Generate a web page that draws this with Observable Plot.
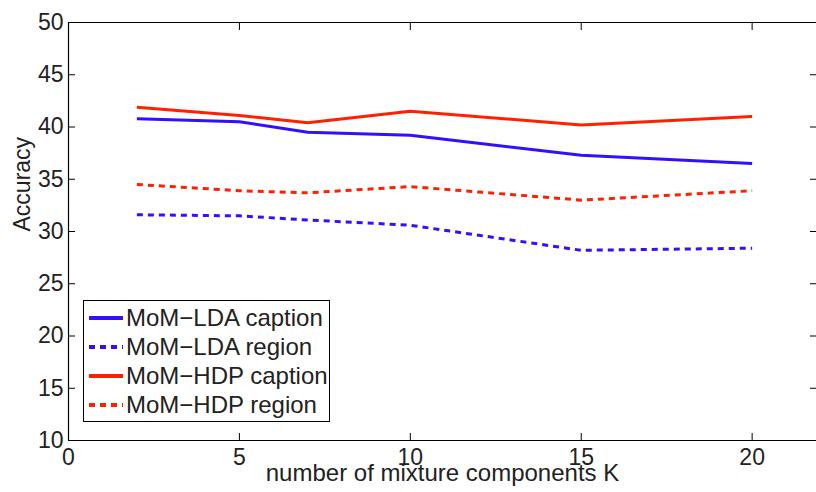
<!DOCTYPE html>
<html><head><meta charset="utf-8">
<script src="https://cdn.jsdelivr.net/npm/d3@7"></script>
<script src="https://cdn.jsdelivr.net/npm/@observablehq/plot@0.6"></script>
<style>
body{margin:0;background:#fff;}
#wrap{position:relative;width:816px;height:492px;overflow:hidden;font-family:"Liberation Sans",Arial,sans-serif;}
#legend{position:absolute;left:83px;top:300px;width:245px;height:120px;border:1px solid #000;background:#fff;box-sizing:content-box;}
#legend .row{position:absolute;left:0;height:29px;display:flex;align-items:center;font-size:24px;color:#222;white-space:nowrap;}
#legend svg{margin-left:5px;margin-right:3px;}
</style></head>
<body><div id="wrap"></div>
<script>
const K = [2, 5, 7, 10, 15, 20];
const ldaCaption = [40.8, 40.5, 39.5, 39.2, 37.3, 36.5];
const ldaRegion  = [31.6, 31.5, 31.1, 30.6, 28.2, 28.4];
const hdpCaption = [41.9, 41.1, 40.4, 41.5, 40.2, 41.0];
const hdpRegion  = [34.5, 33.9, 33.7, 34.3, 33.0, 33.9];
const xTicks = [0, 5, 10, 15, 20];
const yTicks = [10, 15, 20, 25, 30, 35, 40, 45, 50];
const seriesNames = ["MoM\u2212LDA caption", "MoM\u2212LDA region", "MoM\u2212HDP caption", "MoM\u2212HDP region"];
const seriesValues = [ldaCaption, ldaRegion, hdpCaption, hdpRegion];
const seriesColors = ["#3010ff", "#3010ff", "#ff2000", "#ff2000"];
const seriesDash = [null, "6,5", null, "6,5"];

const rows = [];
seriesNames.forEach((name, i) => K.forEach((k, j) => rows.push({series: name, k, acc: seriesValues[i][j]})));

const marks = [];
seriesNames.forEach((name, i) => {
  marks.push(Plot.line(rows.filter(r => r.series === name), {
    x: "k", y: "acc", stroke: seriesColors[i], strokeWidth: 3,
    strokeDasharray: seriesDash[i], strokeLinecap: "butt", strokeLinejoin: "round"
  }));
});

const chart = Plot.plot({
  width: 816, height: 492,
  marginLeft: 68, marginRight: 0, marginTop: 22, marginBottom: 52,
  style: {fontFamily: "'Liberation Sans', Arial, sans-serif", fontSize: "23px", color: "#222", background: "#fff"},
  x: {domain: [0, 22], range: [68, 820]},
  y: {domain: [10, 50]},
  marks: [
    ...marks,
    Plot.ruleY([10, 50], {stroke: "#000", strokeWidth: 1.2}),
    Plot.ruleX([0, 22], {stroke: "#000", strokeWidth: 1.2}),
    Plot.axisX(xTicks, {anchor: "bottom", tickSize: -7, tickPadding: 15, fontSize: 23, label: null, stroke: "#000"}),
    Plot.axisX(xTicks, {anchor: "top", tickSize: -7, text: null, label: null, stroke: "#000"}),
    Plot.axisY(yTicks, {anchor: "left", tickSize: -7, tickPadding: 12, fontSize: 23, label: null, stroke: "#000"}),
    Plot.axisY(yTicks, {anchor: "right", tickSize: -7, text: null, label: null, stroke: "#000"}),
    Plot.text(["number of mixture components K"], {frameAnchor: "bottom", dy: 40, fontSize: 24, fill: "#222"}),
    Plot.text(["Accuracy"], {frameAnchor: "left", dx: -46, rotate: -90, fontSize: 23, fill: "#222"})
  ]
});
const wrap = document.getElementById("wrap");
wrap.appendChild(chart);

const legend = document.createElement("div");
legend.id = "legend";
seriesNames.forEach((name, i) => {
  const row = document.createElement("div");
  row.className = "row";
  row.style.top = (2 + i * 29) + "px";
  const dash = seriesDash[i] ? `stroke-dasharray="${seriesDash[i]}"` : "";
  row.innerHTML = `<svg width="34" height="10"><line x1="0" y1="5" x2="34" y2="5" stroke="${seriesColors[i]}" stroke-width="4" ${dash}/></svg><span>${name}</span>`;
  legend.appendChild(row);
});
wrap.appendChild(legend);
</script></body></html>
